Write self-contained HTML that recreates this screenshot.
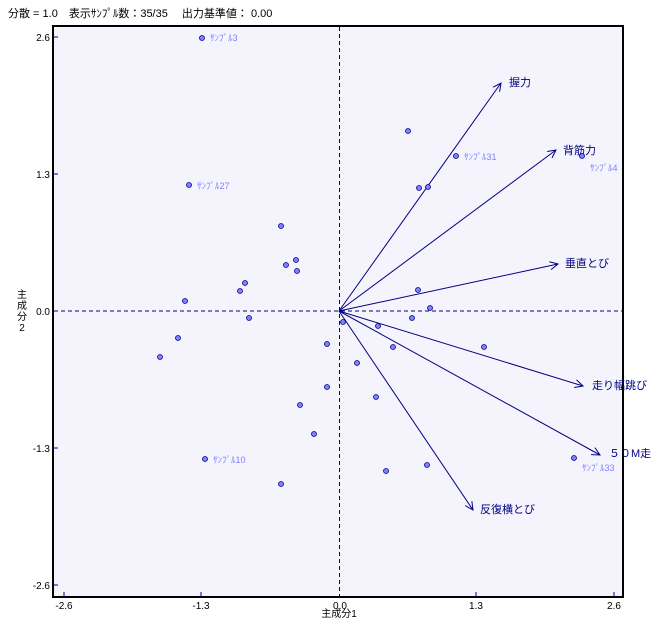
<!DOCTYPE html>
<html><head><meta charset="utf-8"><style>
body{margin:0;background:#fff;width:669px;height:632px;overflow:hidden}
svg text{font-family:"Liberation Sans","Noto Sans CJK JP",sans-serif}
</style></head><body>
<svg width="669" height="632" xmlns="http://www.w3.org/2000/svg">
<defs><marker id="a" markerWidth="10" markerHeight="10" refX="9" refY="5" orient="auto" markerUnits="userSpaceOnUse"><path d="M1,1 L9,5 L1,9" fill="none" stroke="#000080" stroke-width="1"/></marker></defs>
<text x="8" y="17" font-size="11" fill="#000">分散 = 1.0　表示ｻﾝﾌﾟﾙ数：35/35　 出力基準値：  0.00</text>
<rect x="53" y="26" width="570" height="571" fill="#f5f4fd" stroke="#000" stroke-width="2"/>
<line x1="339.5" y1="27" x2="339.5" y2="596" stroke="#000080" stroke-dasharray="4,3"/>
<line x1="54" y1="311" x2="622" y2="311" stroke="#000080" stroke-dasharray="4,3"/>
<g stroke="#000080">
<line x1="64" y1="597" x2="64" y2="592"/><line x1="201" y1="597" x2="201" y2="592"/><line x1="476" y1="597" x2="476" y2="592"/><line x1="614" y1="597" x2="614" y2="592"/>
<line x1="53" y1="37" x2="58" y2="37"/><line x1="53" y1="174" x2="58" y2="174"/><line x1="53" y1="448" x2="58" y2="448"/><line x1="53" y1="585" x2="58" y2="585"/>
</g>
<g font-size="10" fill="#000" text-anchor="end">
<text x="50" y="41">2.6</text><text x="50" y="178">1.3</text><text x="50" y="315">0.0</text><text x="50" y="452">-1.3</text><text x="50" y="589">-2.6</text>
</g>
<g font-size="10" fill="#000" text-anchor="middle">
<text x="64" y="609">-2.6</text><text x="201" y="609">-1.3</text><text x="340" y="609">0.0</text><text x="476" y="609">1.3</text><text x="614" y="609">2.6</text>
<text x="339" y="617">主成分1</text>
</g>
<g font-size="10" fill="#000" text-anchor="middle"><text x="22" y="298">主</text><text x="22" y="309">成</text><text x="22" y="320">分</text><text x="22" y="331">2</text></g>
<g stroke="#000080" stroke-width="1" marker-end="url(#a)">
<line x1="339" y1="311" x2="501" y2="83"/>
<line x1="339" y1="311" x2="556" y2="150"/>
<line x1="339" y1="311" x2="558" y2="264"/>
<line x1="339" y1="311" x2="583" y2="386"/>
<line x1="339" y1="311" x2="600" y2="455"/>
<line x1="339" y1="311" x2="473" y2="510"/>
</g>
<g font-size="11" fill="#000080">
<text x="509" y="86">握力</text><text x="563" y="154">背筋力</text><text x="565" y="267">垂直とび</text>
<text x="592" y="389">走り幅跳び</text><text x="609" y="457">５０M走</text><text x="480" y="513">反復横とび</text>
</g>
<g fill="#8080ff" stroke="#000080" stroke-width="0.8">
<circle cx="202" cy="38" r="2.5"/><circle cx="408" cy="131" r="2.5"/><circle cx="456" cy="156" r="2.5"/><circle cx="582" cy="156" r="2.5"/><circle cx="419" cy="188" r="2.5"/><circle cx="428" cy="187" r="2.5"/><circle cx="189" cy="185" r="2.5"/><circle cx="281" cy="226" r="2.5"/><circle cx="296" cy="260" r="2.5"/><circle cx="286" cy="265" r="2.5"/><circle cx="297" cy="271" r="2.5"/><circle cx="245" cy="283" r="2.5"/><circle cx="240" cy="291" r="2.5"/><circle cx="185" cy="301" r="2.5"/><circle cx="418" cy="290" r="2.5"/><circle cx="430" cy="308" r="2.5"/><circle cx="249" cy="318" r="2.5"/><circle cx="412" cy="318" r="2.5"/><circle cx="343" cy="322" r="2.5"/><circle cx="378" cy="326" r="2.5"/><circle cx="178" cy="338" r="2.5"/><circle cx="327" cy="344" r="2.5"/><circle cx="393" cy="347" r="2.5"/><circle cx="484" cy="347" r="2.5"/><circle cx="160" cy="357" r="2.5"/><circle cx="357" cy="363" r="2.5"/><circle cx="327" cy="387" r="2.5"/><circle cx="376" cy="397" r="2.5"/><circle cx="300" cy="405" r="2.5"/><circle cx="314" cy="434" r="2.5"/><circle cx="205" cy="459" r="2.5"/><circle cx="427" cy="465" r="2.5"/><circle cx="386" cy="471" r="2.5"/><circle cx="574" cy="458" r="2.5"/><circle cx="281" cy="484" r="2.5"/>
</g>
<g font-size="9" fill="#8080ff">
<text x="210" y="41">ｻﾝﾌﾟﾙ3</text><text x="464" y="160">ｻﾝﾌﾟﾙ31</text><text x="590" y="171">ｻﾝﾌﾟﾙ4</text>
<text x="197" y="189">ｻﾝﾌﾟﾙ27</text><text x="213" y="463">ｻﾝﾌﾟﾙ10</text><text x="582" y="471">ｻﾝﾌﾟﾙ33</text>
</g>
</svg>
</body></html>
